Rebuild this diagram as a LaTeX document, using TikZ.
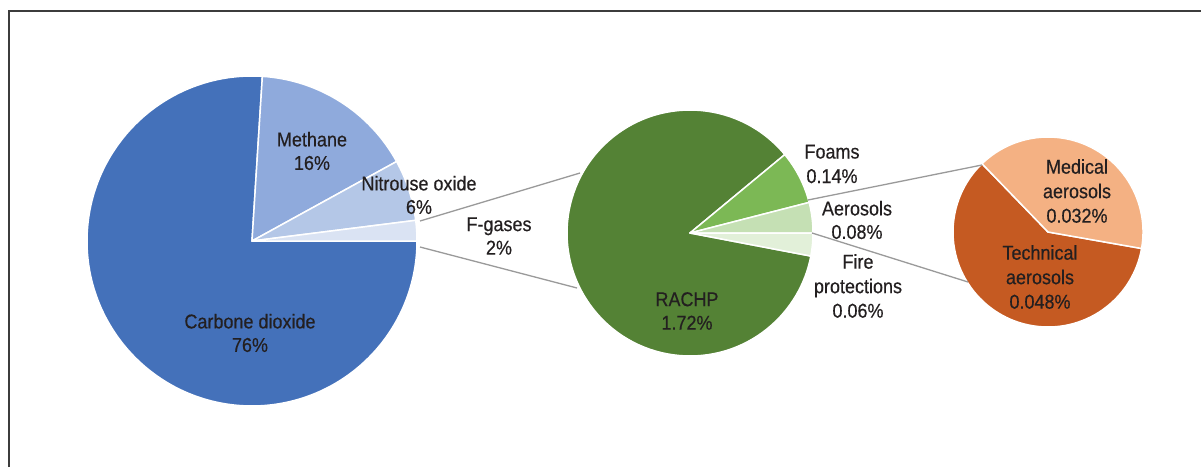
\documentclass[tikz,border=0pt]{standalone}
\usepackage{fontspec}
\setmainfont{Liberation Sans}[FakeStretch=0.9,FakeBold=0.4]
\definecolor{co2}{HTML}{4471BA}
\definecolor{meth}{HTML}{8FAADC}
\definecolor{ntwo}{HTML}{B4C7E7}
\definecolor{fgas}{HTML}{DAE3F3}
\definecolor{rachp}{HTML}{548235}
\definecolor{foam}{HTML}{7CB855}
\definecolor{aero}{HTML}{C5E0B4}
\definecolor{fire}{HTML}{E2F0D9}
\definecolor{tech}{HTML}{C55A22}
\definecolor{medi}{HTML}{F4B183}
\definecolor{txt}{HTML}{231F20}
\definecolor{conn}{HTML}{9A9A9A}
\definecolor{frame}{HTML}{3C3C3C}
\begin{document}
\begin{tikzpicture}[x=1pt,y=1pt,
  slice/.style={draw=white,line width=1.5pt,line join=round},
  lbl/.style={font=\fontsize{20}{23.5}\selectfont,text=txt,align=center,inner sep=0pt},
  lbltall/.style={font=\fontsize{20}{24.5}\selectfont,text=txt,align=center,inner sep=0pt},
  connector/.style={draw=conn,line width=1.3pt}]
\useasboundingbox (0,0) rectangle (1201,467);
\fill[white] (0,0) rectangle (1201,467);
% frame
\draw[frame,line width=2pt] (9,0) -- (9,456) -- (1201,456);
% left pie
\coordinate (L) at (252,226);
\def\rl{165pt}
\filldraw[slice,fill=co2] (L) -- ++(86.4:\rl) arc[start angle=86.4,end angle=360,radius=\rl] -- cycle;
\filldraw[slice,fill=meth] (L) -- ++(28.8:\rl) arc[start angle=28.8,end angle=86.4,radius=\rl] -- cycle;
\filldraw[slice,fill=ntwo] (L) -- ++(7.2:\rl) arc[start angle=7.2,end angle=28.8,radius=\rl] -- cycle;
\filldraw[slice,fill=fgas] (L) -- ++(0:\rl) arc[start angle=0,end angle=7.2,radius=\rl] -- cycle;
% middle pie
\coordinate (M) at (690,234);
\def\rm{123pt}
\filldraw[slice,fill=rachp] (M) -- ++(39.6:\rm) arc[start angle=39.6,end angle=349.2,radius=\rm] -- cycle;
\filldraw[slice,fill=foam] (M) -- ++(14.4:\rm) arc[start angle=14.4,end angle=39.6,radius=\rm] -- cycle;
\filldraw[slice,fill=aero] (M) -- ++(0:\rm) arc[start angle=0,end angle=14.4,radius=\rm] -- cycle;
\filldraw[slice,fill=fire] (M) -- ++(-10.8:\rm) arc[start angle=-10.8,end angle=0,radius=\rm] -- cycle;
% right pie
\coordinate (R) at (1048,235);
\def\rr{95pt}
\filldraw[slice,fill=tech] (R) -- ++(134:\rr) arc[start angle=134,end angle=350,radius=\rr] -- cycle;
\filldraw[slice,fill=medi] (R) -- ++(-10:\rr) arc[start angle=-10,end angle=134,radius=\rr] -- cycle;
% connector end points
\coordinate (fgTop) at (420,246);
\coordinate (fgBot) at (420,220);
\coordinate (gTop) at (580,294);
\coordinate (gBot) at (577,179);
\coordinate (aTop) at (808,267);
\coordinate (aBot) at (812,234);
\coordinate (oTop) at (982,302);
\coordinate (oBot) at (968,185);
\draw[connector] (fgTop) -- (gTop);
\draw[connector] (fgBot) -- (gBot);
\draw[connector] (aTop) -- (oTop);
\draw[connector] (aBot) -- (oBot);
% labels
\node[lbl] (tco2) at (250,134) {Carbone dioxide\\76\%};
\node[lbl] (tmeth) at (312,316) {Methane\\16\%};
\node[lbl] (tn2o) at (419,272) {Nitrouse oxide\\6\%};
\node[lbl] (tfg) at (499,231) {F-gases\\2\%};
\node[lbl] (track) at (687,156) {RACHP\\1.72\%};
\node[lbltall] (tfoam) at (832,303) {Foams\\0.14\%};
\node[lbl] (taero) at (857,247) {Aerosols\\0.08\%};
\node[lbltall] (tfire) at (858,181) {Fire\\protections\\0.06\%};
\node[lbltall] (tmed) at (1077,276) {Medical\\aerosols\\0.032\%};
\node[lbltall] (ttech) at (1040,190) {Technical\\aerosols\\0.048\%};
\end{tikzpicture}
\end{document}
